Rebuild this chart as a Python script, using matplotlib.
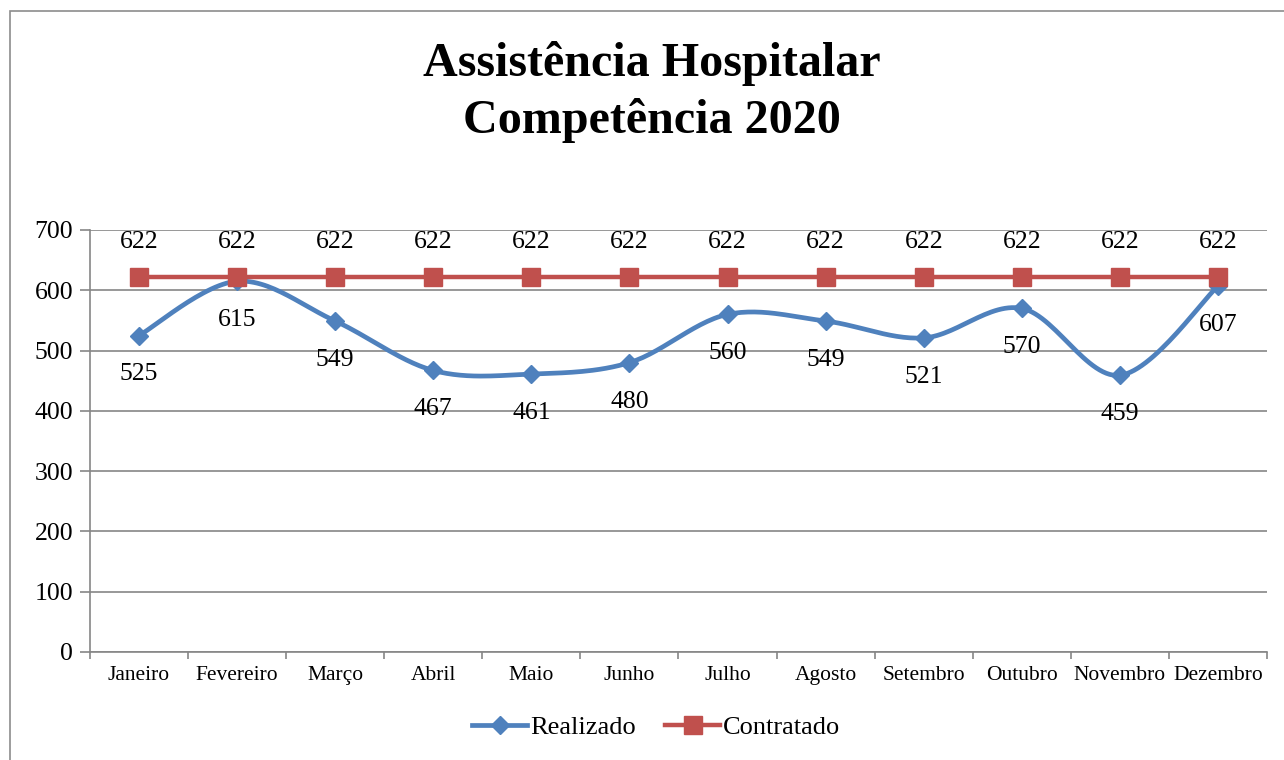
import numpy as np
import matplotlib
matplotlib.use("Agg")
import matplotlib.pyplot as plt
from matplotlib.patches import Rectangle
from matplotlib.lines import Line2D

months = ["Janeiro", "Fevereiro", "Março", "Abril", "Maio", "Junho", "Julho",
          "Agosto", "Setembro", "Outubro", "Novembro", "Dezembro"]
realizado = [525, 615, 549, 467, 461, 480, 560, 549, 521, 570, 459, 607]
contratado = [622] * 12
title = "Assistência Hospitalar\nCompetência 2020"

BLUE = "#4F81BD"
RED = "#C0504D"
GRID = "#868686"

plt.rcParams['font.family'] = ['Liberation Serif', 'DejaVu Serif']

W, H = 1284, 760
fig = plt.figure(figsize=(W / 100, H / 100), dpi=100)
fig.patch.set_facecolor("white")

# outer chart border (cut off at right and bottom)
fig.patches.append(Rectangle((10 / W, -0.1), 2.0, (H - 11) / H + 0.1,
                             transform=fig.transFigure, fill=False,
                             edgecolor="#8c8c8c", linewidth=1.2))

ax = fig.add_axes([90 / W, 1 - 652 / H, (1267 - 90) / W, (652 - 230) / H])

x = np.arange(len(months))


def smooth(xs, ys, n=30):
    xs = np.asarray(xs, float)
    ys = np.asarray(ys, float)
    px, py = [], []
    m = len(xs)
    for i in range(m - 1):
        p0 = (xs[max(i - 1, 0)], ys[max(i - 1, 0)])
        p1 = (xs[i], ys[i])
        p2 = (xs[i + 1], ys[i + 1])
        p3 = (xs[min(i + 2, m - 1)], ys[min(i + 2, m - 1)])
        c1 = (p1[0] + (p2[0] - p0[0]) / 6, p1[1] + (p2[1] - p0[1]) / 6)
        c2 = (p2[0] - (p3[0] - p1[0]) / 6, p2[1] - (p3[1] - p1[1]) / 6)
        t = np.linspace(0, 1, n)
        bx = ((1 - t) ** 3) * p1[0] + 3 * ((1 - t) ** 2) * t * c1[0] + 3 * (1 - t) * t ** 2 * c2[0] + t ** 3 * p2[0]
        by = ((1 - t) ** 3) * p1[1] + 3 * ((1 - t) ** 2) * t * c1[1] + 3 * (1 - t) * t ** 2 * c2[1] + t ** 3 * p2[1]
        px.extend(bx)
        py.extend(by)
    return np.array(px), np.array(py)


sx, sy = smooth(x, realizado)
ax.plot(sx, sy, color=BLUE, linewidth=3.4, solid_capstyle="round", zorder=3)
ax.plot(x, realizado, linestyle="none", marker="D", markersize=9,
        color=BLUE, zorder=4)
ax.plot(x, contratado, color=RED, linewidth=3.2, marker="s", markersize=13,
        zorder=5)

LBL = 18.5
for xi, v in zip(x, realizado):
    ax.annotate(str(v), (xi, v), xytext=(0, -28), textcoords="offset points",
                ha="center", va="center", fontsize=LBL, color="black", zorder=6)
for xi, v in zip(x, contratado):
    ax.annotate(str(v), (xi, v), xytext=(0, 25), textcoords="offset points",
                ha="center", va="center", fontsize=LBL, color="black", zorder=6)

ax.set_xlim(-0.5, len(months) - 0.5)
ax.set_ylim(0, 700)
ax.set_yticks(range(0, 701, 100))
ax.set_xticks(x)
ax.set_xticklabels(months, fontsize=15.5)
ax.set_xticks(np.arange(-0.5, len(months)), minor=True)
ax.tick_params(axis="x", which="major", length=0, pad=10)
ax.tick_params(axis="x", which="minor", length=5, color=GRID, width=1.2)
ax.tick_params(axis="y", labelsize=18.5, length=7, color=GRID, width=1.2, pad=5)
ax.yaxis.grid(True, color=GRID, linewidth=1.2)
ax.set_axisbelow(True)
for s in ["top", "right"]:
    ax.spines[s].set_visible(False)
for s in ["left", "bottom"]:
    ax.spines[s].set_color(GRID)
    ax.spines[s].set_linewidth(1.2)

fig.text(0.508, 1 - 92 / H, title, ha="center", va="center",
         fontsize=34.6, fontweight="bold", linespacing=1.36)

handles = [Line2D([], [], color=BLUE, linewidth=3.4, marker="D", markersize=9),
           Line2D([], [], color=RED, linewidth=3.2, marker="s", markersize=13)]
fig.legend(handles, ["Realizado", "Contratado"], loc="center",
           bbox_to_anchor=(0.511, 1 - 727 / H), ncol=2, frameon=False,
           fontsize=19, handlelength=2.1, handletextpad=0.1, columnspacing=1.1)

fig.savefig("out.png", dpi=100, facecolor="white")
